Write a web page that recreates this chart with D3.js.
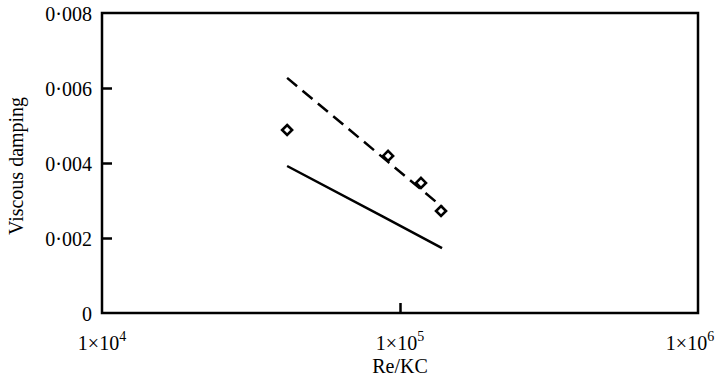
<!DOCTYPE html>
<html>
<head>
<meta charset="utf-8">
<script src="https://cdn.jsdelivr.net/npm/d3@7"></script>
<style>
  body { margin: 0; background: #fff; }
  svg text { font-family: "Liberation Serif", "Times New Roman", serif; fill: #000; }
</style>
</head>
<body>
<svg id="chart" width="719" height="386"></svg>
<script>
// measured points (diamonds)
const pointRe = [41800, 91200, 117600, 137300];
const pointDamping = [0.00488, 0.00419, 0.00347, 0.00272];

// dashed fit line
const dashRe = [41800, 91200, 138400];
const dashDamping = [0.00627, 0.00403, 0.00283];

// solid line
const solidRe = [41800, 87700, 138400];
const solidDamping = [0.00392, 0.00257, 0.00173];

const yTicks = [0, 0.002, 0.004, 0.006, 0.008];
const yTickLabels = ["0", "0·002", "0·004", "0·006", "0·008"];
const xTicks = [1e4, 1e5, 1e6];
const xTickExp = ["4", "5", "6"];

const margin = { top: 13, right: 21, bottom: 73, left: 102 };
const width = 719 - margin.left - margin.right;
const height = 386 - margin.top - margin.bottom;

const svg = d3.select('#chart');
const g = svg.append('g').attr('transform', `translate(${margin.left},${margin.top})`);

const x = d3.scaleLog().domain([1e4, 1e6]).range([0, width]);
const y = d3.scaleLinear().domain([0, 0.008]).range([height, 0]);

// y axis: inward ticks
const yAxis = g.append('g')
    .call(d3.axisLeft(y).tickValues(yTicks).tickSize(-10).tickPadding(10)
        .tickFormat((d, i) => yTickLabels[i]));
yAxis.select('.domain').remove();
yAxis.selectAll('.tick line').attr('stroke', '#000').attr('stroke-width', 2.5)
    .filter(d => d === 0 || d === 0.008).remove();
yAxis.selectAll('.tick text').attr('font-size', 20).attr('font-family', '"Liberation Serif", serif').attr('dy', '0.35em');

// x axis: inward tick at 1e5 only
const xAxis = g.append('g').attr('transform', `translate(0,${height})`)
    .call(d3.axisBottom(x).tickValues([1e5]).tickSize(-10).tickFormat(''));
xAxis.select('.domain').remove();
xAxis.selectAll('.tick line').attr('stroke', '#000').attr('stroke-width', 2.5);

// x tick labels with superscripts (last one kept inside the page)
const xl = g.append('g').selectAll('text').data(xTicks).join('text')
    .attr('x', (d, i) => x(d) - (i === xTicks.length - 1 ? 8 : 0))
    .attr('y', height + 37)
    .attr('text-anchor', 'middle')
    .attr('font-size', 20);
xl.append('tspan').text('1×10');
xl.append('tspan').attr('dy', -9).attr('font-size', 14).text((d, i) => xTickExp[i]);

// frame
g.append('rect')
    .attr('x', 0).attr('y', 0)
    .attr('width', width).attr('height', height)
    .attr('fill', 'none').attr('stroke', '#000').attr('stroke-width', 2.5);

// axis titles
g.append('text')
    .attr('x', x(1e5)).attr('y', height + 60)
    .attr('text-anchor', 'middle').attr('font-size', 20)
    .text('Re/KC');
svg.append('text')
    .attr('transform', 'translate(23,166) rotate(-90)')
    .attr('text-anchor', 'middle').attr('font-size', 20)
    .text('Viscous damping');

const line = d3.line().x(d => x(d[0])).y(d => y(d[1]));

g.append('path')
    .datum(dashRe.map((d, i) => [d, dashDamping[i]]))
    .attr('d', line)
    .attr('fill', 'none').attr('stroke', '#000').attr('stroke-width', 2.5)
    .attr('stroke-dasharray', '13,7');

g.append('path')
    .datum(solidRe.map((d, i) => [d, solidDamping[i]]))
    .attr('d', line)
    .attr('fill', 'none').attr('stroke', '#000').attr('stroke-width', 2.5);

const r = 5;
g.append('g').selectAll('path').data(pointRe).join('path')
    .attr('transform', (d, i) => `translate(${x(d)},${y(pointDamping[i])})`)
    .attr('d', `M0,${-r}L${r},0L0,${r}L${-r},0Z`)
    .attr('fill', '#fff').attr('stroke', '#000').attr('stroke-width', 2.6);
</script>
</body>
</html>
